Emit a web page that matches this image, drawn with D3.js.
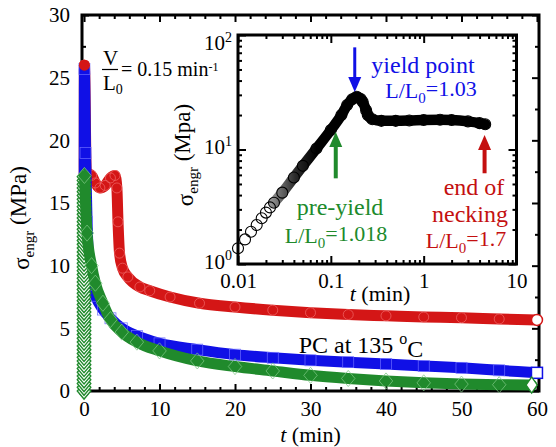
<!DOCTYPE html>
<html><head><meta charset="utf-8">
<script src="https://cdn.jsdelivr.net/npm/d3@7"></script>
<style>
body{margin:0;background:#fff;}
svg{display:block;font-family:"Liberation Serif","Times New Roman",serif;}
</style></head><body>
<svg id="c" width="556" height="447"></svg>
<script>
// ---------- DATA ----------
// main chart: stress relaxation, t (min) vs sigma_engr (MPa)
const redT   = [0, 0.05, 0.3, 1.0, 1.5, 2.1, 2.8, 3.5, 4.1, 4.35, 4.5, 4.7, 5.1, 5.8, 7.4, 8.7, 11.4, 15.3, 20, 25, 30, 35, 40, 45, 50, 55, 60];
const redS   = [0, 26.0, 17.4, 17.2, 16.6, 16.2, 16.4, 17.0, 17.2, 16.2, 13.5, 11.0, 9.8, 9.1, 8.3, 8.0, 7.5, 7.0, 6.7, 6.45, 6.25, 6.1, 6.0, 5.9, 5.85, 5.75, 5.67];
const blueT  = [0, 0.05, 0.2, 0.4, 0.6, 1.0, 1.5, 2.5, 3.5, 5, 7, 10, 15, 20, 25, 30, 35, 40, 45, 50, 55, 60];
const blueS  = [0, 25.7, 19, 13.5, 10.5, 8.6, 7.6, 6.5, 5.8, 5.0, 4.4, 3.8, 3.3, 2.9, 2.65, 2.45, 2.3, 2.15, 2.0, 1.85, 1.65, 1.45];
const greenT = [0.05, 0.4, 1.0, 1.5, 2.5, 3.5, 5, 7, 10, 15, 20, 25, 30, 35, 40, 45, 50, 55, 59.3];
const greenS = [17.2, 12.6, 10.0, 8.6, 7.0, 5.7, 4.7, 3.9, 3.2, 2.4, 1.95, 1.6, 1.25, 1.0, 0.8, 0.65, 0.55, 0.5, 0.48];
// stacked loading markers of the green series at t = 0
const greenLoadS = [0,0.3,0.6,0.9,1.2,1.5,1.8,2.1,2.4,2.7,3.0,3.3,3.6,3.9,4.2,4.5,4.8,5.1,5.4,5.7,6.0,6.3,6.6,6.9,7.2,7.5,7.8,8.1,8.4,8.7,9.0,9.3,9.6,9.9,10.2,10.5,10.8,11.1,11.4,11.7,12.0,12.3,12.6,12.9,13.2,13.5,13.8,14.1,14.4,14.7,15.0,15.3,15.6,15.9,16.2,16.5,16.8,17.1];
// inset: log-log, t (min) vs sigma_engr (MPa)
const insetT = [0.010, 0.0119, 0.0138, 0.0159, 0.018, 0.020, 0.0221, 0.0244, 0.03, 0.04, 0.05, 0.07, 0.1, 0.13, 0.15, 0.17, 0.19, 0.21, 0.22, 0.24, 0.25, 0.28, 0.35, 0.5, 0.7, 1, 1.5, 2, 3, 4, 4.6];
const insetS = [1.37, 1.64, 1.91, 2.19, 2.51, 2.81, 3.12, 3.43, 4.2, 5.7, 7.2, 10.2, 14.8, 20, 24.5, 27.5, 28.9, 27.6, 26.1, 22, 20, 18.4, 17.8, 17.8, 17.9, 18.1, 18.2, 18.1, 17.6, 17.0, 16.6];
// ticks
const mainXTicks = [0, 10, 20, 30, 40, 50, 60];
const mainYTicks = [0, 5, 10, 15, 20, 25, 30];
const insetXTicks = [0.01, 0.1, 1, 10];
const insetXLabels = ["0.01", "0.1", "1", "10"];
const insetYTicks = [1, 10, 100];
const insetYExp = ["0", "1", "2"];
// annotation anchors in inset data units
const yieldArrow = {t: 0.181, from: 78, to: 31.8};
const preArrow   = {t: 0.113, from: 5.6, to: 14.2};
const neckArrow  = {t: 4.53, from: 6.2, to: 13.4};

// ---------- COLOURS ----------
const RED = "#d41616", BLUE = "#1010e6", GREEN = "#208a2c", DARKRED = "#c41010";
const FONT = '"Liberation Serif","Times New Roman",serif';

const svg = d3.select("#c");
const zip = (T, S) => T.map((t, i) => [t, S[i]]);

// ---------- MAIN CHART ----------
const x = d3.scaleLinear().domain([-0.27, 60.27]).range([82, 539]);
const y = d3.scaleLinear().domain([0, 30]).range([391, 15]);
const [X0, X1] = x.range(), [Y0, Y1] = y.range();

function styleAxis(g, w, fs) {
  g.select(".domain").remove();
  g.selectAll(".tick line").attr("stroke", "#000").attr("stroke-width", w);
  g.selectAll(".tick text").attr("font-size", fs || 21).attr("font-family", FONT).attr("fill", "#000");
}
const xMinor = d3.range(0, 61, 2).filter(v => v % 10 !== 0);
const yMinor = d3.range(2.5, 30, 5);

const main = svg.append("g");
main.append("g").attr("transform", `translate(0,${Y0})`)
  .call(d3.axisBottom(x).tickValues(mainXTicks).tickSize(-7).tickPadding(10).tickFormat(d3.format("d"))).call(styleAxis, 2);
main.append("g").attr("transform", `translate(0,${Y0})`)
  .call(d3.axisBottom(x).tickValues(xMinor).tickSize(-4).tickFormat("")).call(styleAxis, 2);
main.append("g").attr("transform", `translate(0,${Y1})`)
  .call(d3.axisTop(x).tickValues(mainXTicks).tickSize(-7).tickFormat("")).call(styleAxis, 2);
main.append("g").attr("transform", `translate(0,${Y1})`)
  .call(d3.axisTop(x).tickValues(xMinor).tickSize(-4).tickFormat("")).call(styleAxis, 2);
main.append("g").attr("transform", `translate(${X0},0)`)
  .call(d3.axisLeft(y).tickValues(mainYTicks).tickSize(-7).tickPadding(12).tickFormat(d3.format("d"))).call(styleAxis, 2);
main.append("g").attr("transform", `translate(${X0},0)`)
  .call(d3.axisLeft(y).tickValues(yMinor).tickSize(-4).tickFormat("")).call(styleAxis, 2);
main.append("g").attr("transform", `translate(${X1},0)`)
  .call(d3.axisRight(y).tickValues(mainYTicks).tickSize(-7).tickFormat("")).call(styleAxis, 2);
main.append("g").attr("transform", `translate(${X1},0)`)
  .call(d3.axisRight(y).tickValues(yMinor).tickSize(-4).tickFormat("")).call(styleAxis, 2);
main.append("rect").attr("x", X0).attr("y", Y1).attr("width", X1 - X0).attr("height", Y0 - Y1)
  .attr("fill", "none").attr("stroke", "#000").attr("stroke-width", 3);

// axis titles
main.append("text").attr("x", (X0 + X1) / 2).attr("y", 442).attr("text-anchor", "middle")
  .attr("font-size", 22).call(t => { t.append("tspan").attr("font-style", "italic").text("t"); t.append("tspan").text(" (min)"); });
main.append("text").attr("transform", "translate(29,218) rotate(-90)").attr("text-anchor", "middle")
  .attr("font-size", 23).call(t => {
    t.append("tspan").text("σ");
    t.append("tspan").attr("font-size", 15).attr("dy", "0.35em").text("engr");
    t.append("tspan").attr("dy", "-0.35em").text(" (MPa)");
  });

const line = d3.line().x(d => x(d[0])).y(d => y(d[1])).curve(d3.curveMonotoneX);
const band = (g, data, color) => g.append("path").datum(data).attr("d", line)
  .attr("fill", "none").attr("stroke", color).attr("stroke-width", 11)
  .attr("stroke-linejoin", "round").attr("stroke-linecap", "round");

const dataG = svg.append("g");
// red circles
const redD = zip(redT, redS);
band(dataG, redD, RED);
dataG.selectAll(".rm").data(redD.slice(1, -1)).join("circle").attr("cx", d => x(d[0])).attr("cy", d => y(d[1]))
  .attr("r", 5).attr("fill", "none").attr("stroke", "#f06a6a").attr("stroke-width", 0.7);
// blue squares
const blueD = zip(blueT, blueS);
band(dataG, blueD, BLUE);
dataG.selectAll(".bm").data(blueD.slice(1, -1)).join("rect").attr("x", d => x(d[0]) - 5.5).attr("y", d => y(d[1]) - 5.5)
  .attr("width", 11).attr("height", 11).attr("fill", "none").attr("stroke", "#6a6aff").attr("stroke-width", 0.7);
// green diamonds: loading stack then relaxation band
const diamond = d3.symbol().type(d3.symbolDiamond).size(75);
dataG.selectAll(".gl").data(greenLoadS).join("path")
  .attr("transform", s => `translate(${x(0)},${y(s)}) scale(1.45,1)`).attr("d", diamond)
  .attr("fill", "#fff").attr("stroke", GREEN).attr("stroke-width", 1.1);
const greenD = zip(greenT, greenS);
band(dataG, greenD, GREEN);
dataG.selectAll(".gm").data(greenD.slice(0, -1)).join("path")
  .attr("transform", d => `translate(${x(d[0])},${y(d[1])}) scale(1.45,1)`).attr("d", diamond)
  .attr("fill", "none").attr("stroke", "#7cc783").attr("stroke-width", 0.6);
// end markers (open)
const rEnd = redD[redD.length - 1], bEnd = blueD[blueD.length - 1], gEnd = greenD[greenD.length - 1];
dataG.append("circle").attr("cx", x(rEnd[0])).attr("cy", y(rEnd[1])).attr("r", 5.5)
  .attr("fill", "#fff").attr("stroke", RED).attr("stroke-width", 1.5);
dataG.append("rect").attr("x", x(bEnd[0]) - 5.5).attr("y", y(bEnd[1]) - 5.5).attr("width", 11).attr("height", 11)
  .attr("fill", "#fff").attr("stroke", BLUE).attr("stroke-width", 1.5);
dataG.append("path").attr("transform", `translate(${x(gEnd[0])},${y(gEnd[1])}) scale(1.2,1)`).attr("d", diamond)
  .attr("fill", "#fff").attr("stroke", GREEN).attr("stroke-width", 1.2);
// red peak dot
dataG.append("circle").attr("cx", x(redD[1][0])).attr("cy", y(redD[1][1])).attr("r", 5.5).attr("fill", RED);

// text annotations in main chart
const ann = svg.append("g").attr("font-size", 21);
ann.append("text").attr("x", 103).attr("y", 65).text("V");
ann.append("line").attr("x1", 102).attr("x2", 118).attr("y1", 69.5).attr("y2", 69.5).attr("stroke", "#000").attr("stroke-width", 1.2);
ann.append("text").attr("x", 103).attr("y", 90).call(t => {
  t.append("tspan").text("L");
  t.append("tspan").attr("font-size", 14).attr("dy", "0.3em").text("0");
});
ann.append("text").attr("x", 121).attr("y", 76).attr("font-size", 20).call(t => {
  t.append("tspan").text("= 0.15 min");
  t.append("tspan").attr("font-size", 12).attr("dy", "-0.45em").text("-1");
});
ann.append("text").attr("x", 361).attr("y", 353).attr("text-anchor", "middle").attr("font-size", 24).call(t => {
  t.append("tspan").text("PC at 135 ");
  t.append("tspan").attr("font-size", 16).attr("dy", "-0.55em").text("o");
  t.append("tspan").attr("dy", "0.55em").text("C");
});

// ---------- INSET ----------
const ix = d3.scaleLog().domain([0.01, 10]).range([238, 516.5]);
const iy = d3.scaleLog().domain([1, 100]).range([264, 35]);
const [IX0, IX1] = ix.range(), [IY0, IY1] = iy.range();
const inset = svg.append("g");
inset.append("rect").attr("x", IX0).attr("y", IY1).attr("width", IX1 - IX0).attr("height", IY0 - IY1).attr("fill", "#fff");

const ixMinor = [], iyMinor = [];
[0.01, 0.1, 1].forEach(d => { for (let k = 2; k <= 9; k++) ixMinor.push(d * k); });
[1, 10].forEach(d => { for (let k = 2; k <= 9; k++) iyMinor.push(d * k); });

const insetD = zip(insetT, insetS);
const defs = svg.append("defs");
const grad = defs.append("linearGradient").attr("id", "ig").attr("gradientUnits", "userSpaceOnUse")
  .attr("x1", ix(0.022)).attr("x2", ix(0.07)).attr("y1", 0).attr("y2", 0);
grad.append("stop").attr("offset", 0).attr("stop-color", "#9a9a9a");
grad.append("stop").attr("offset", 0.55).attr("stop-color", "#2a2a2a");
grad.append("stop").attr("offset", 1).attr("stop-color", "#000");
const iline = d3.line().x(d => ix(d[0])).y(d => iy(d[1])).curve(d3.curveMonotoneX);
inset.append("path").datum(insetD.filter(d => d[0] >= 0.024)).attr("d", iline)
  .attr("fill", "none").attr("stroke", "url(#ig)").attr("stroke-width", 10.5)
  .attr("stroke-linecap", "round").attr("stroke-linejoin", "round");
inset.selectAll(".ic").data(insetD).join("circle").attr("cx", d => ix(d[0])).attr("cy", d => iy(d[1]))
  .attr("r", 5.5).attr("fill", "none").attr("stroke", "#000").attr("stroke-width", 1.1);

inset.append("g").attr("transform", `translate(0,${IY0})`)
  .call(d3.axisBottom(ix).tickValues(insetXTicks).tickSize(-8).tickPadding(9).tickFormat((d, i) => insetXLabels[i])).call(styleAxis, 2);
inset.append("g").attr("transform", `translate(0,${IY0})`)
  .call(d3.axisBottom(ix).tickValues(ixMinor).tickSize(-4).tickFormat("")).call(styleAxis, 2);
inset.append("g").attr("transform", `translate(0,${IY1})`)
  .call(d3.axisTop(ix).tickValues(insetXTicks).tickSize(-8).tickFormat("")).call(styleAxis, 2);
inset.append("g").attr("transform", `translate(0,${IY1})`)
  .call(d3.axisTop(ix).tickValues(ixMinor).tickSize(-4).tickFormat("")).call(styleAxis, 2);
const yAx = inset.append("g").attr("transform", `translate(${IX0},0)`)
  .call(d3.axisLeft(iy).tickValues(insetYTicks).tickSize(-8).tickPadding(6).tickFormat("")).call(styleAxis, 2);
yAx.selectAll(".tick text").each(function (d, i) {
  const t = d3.select(this).attr("dy", i === 2 ? "0.7em" : "0.2em");
  t.append("tspan").text("10");
  t.append("tspan").attr("font-size", 14).attr("dy", "-0.6em").text(insetYExp[i]);
});
inset.append("g").attr("transform", `translate(${IX0},0)`)
  .call(d3.axisLeft(iy).tickValues(iyMinor).tickSize(-4).tickFormat("")).call(styleAxis, 2);
inset.append("g").attr("transform", `translate(${IX1},0)`)
  .call(d3.axisRight(iy).tickValues(insetYTicks).tickSize(-8).tickFormat("")).call(styleAxis, 2);
inset.append("g").attr("transform", `translate(${IX1},0)`)
  .call(d3.axisRight(iy).tickValues(iyMinor).tickSize(-4).tickFormat("")).call(styleAxis, 2);
inset.append("rect").attr("x", IX0).attr("y", IY1).attr("width", IX1 - IX0).attr("height", IY0 - IY1)
  .attr("fill", "none").attr("stroke", "#000").attr("stroke-width", 3);

inset.append("text").attr("x", 380).attr("y", 301).attr("text-anchor", "middle").attr("font-size", 22)
  .call(t => { t.append("tspan").attr("font-style", "italic").text("t"); t.append("tspan").text(" (min)"); });
inset.append("text").attr("transform", "translate(193,155) rotate(-90)").attr("text-anchor", "middle")
  .attr("font-size", 23).call(t => {
    t.append("tspan").text("σ");
    t.append("tspan").attr("font-size", 15).attr("dy", "0.35em").text("engr");
    t.append("tspan").attr("dy", "-0.35em").text(" (Mpa)");
  });

// arrows
function arrow(a, color, shaftW) {
  const xp = ix(a.t), y0 = iy(a.from), y1 = iy(a.to);
  const dir = Math.sign(y1 - y0), head = 15, hw = 6.5;
  inset.append("line").attr("x1", xp).attr("x2", xp).attr("y1", y0).attr("y2", y1 - dir * head + dir)
    .attr("stroke", color).attr("stroke-width", shaftW);
  inset.append("path").attr("d", `M${xp - hw},${y1 - dir * head}L${xp + hw},${y1 - dir * head}L${xp},${y1}Z`).attr("fill", color);
}
arrow(yieldArrow, BLUE, 3);
arrow(preArrow, GREEN, 4);
arrow(neckArrow, DARKRED, 4);

function sublabel(g, xp, yp, pre, sub, post, color) {
  g.append("text").attr("x", xp).attr("y", yp).attr("text-anchor", "middle").attr("font-size", 22).attr("fill", color)
    .call(t => {
      t.append("tspan").text(pre);
      t.append("tspan").attr("font-size", 15).attr("dy", "0.35em").text(sub);
      t.append("tspan").attr("dy", "-0.35em").text(post);
    });
}
const word = (g, xp, yp, s, color) => g.append("text").attr("x", xp).attr("y", yp).attr("text-anchor", "middle")
  .attr("font-size", 24).attr("fill", color).text(s);
const labels = svg.append("g");
word(labels, 423, 73, "yield point", BLUE);
sublabel(labels, 431, 98, "L/L", "0", "=1.03", BLUE);
word(labels, 340, 215, "pre-yield", GREEN);
sublabel(labels, 336, 243, "L/L", "0", "=1.018", GREEN);
word(labels, 474, 195, "end of", DARKRED);
word(labels, 470, 222, "necking", DARKRED);
sublabel(labels, 466, 248, "L/L", "0", "=1.7", DARKRED);
</script>
</body></html>
